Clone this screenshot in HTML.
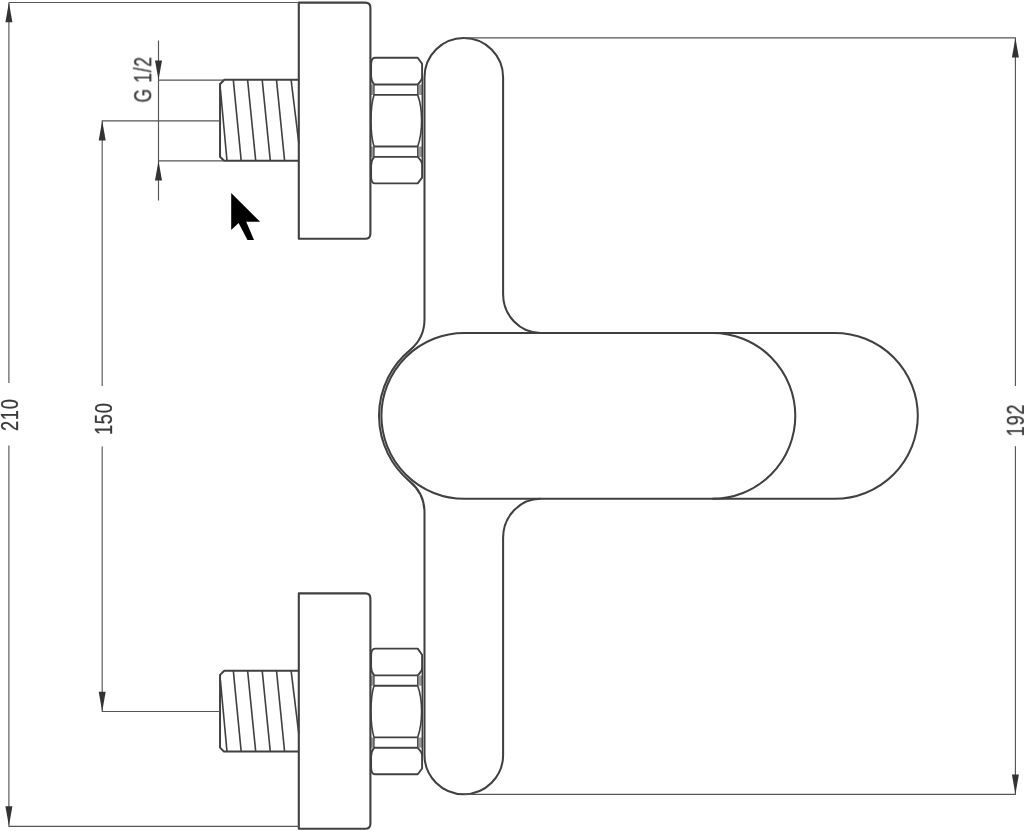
<!DOCTYPE html>
<html><head><meta charset="utf-8"><title>Drawing</title>
<style>
html,body{margin:0;padding:0;background:#fff;}
body{width:1024px;height:831px;position:relative;overflow:hidden;font-family:"Liberation Sans",sans-serif;}
</style></head><body>
<svg width="1024" height="831" viewBox="0 0 1024 831" style="position:absolute;left:0;top:0">
<rect width="1024" height="831" fill="#fff"/>
<g fill="none" stroke="#404040" stroke-width="1.6" stroke-linejoin="round" stroke-linecap="butt">
<path d="M299 79.8 H224.3 L220.05 84 V156.7 L224 160.7 H299" stroke-width="2"/>
<path d="M220.4 89.3 L227 160.7" stroke-width="1.6"/>
<path d="M233.3 79.8 L241.2 160.7" stroke-width="1.6"/>
<path d="M247.6 79.8 L255.7 160.7" stroke-width="1.6"/>
<path d="M262.2 79.8 L270.3 160.7" stroke-width="1.6"/>
<path d="M276.5 79.8 L284.6 160.7" stroke-width="1.6"/>
<path d="M291.1 79.8 L298.8 143" stroke-width="1.6"/>
<path d="M370.4 84.5 H374 V94.9 H370.4 Z M417.7 84.5 H422.3 V94.9 H417.7 Z M370.4 146.5 H374 V156.9 H370.4 Z M417.7 146.5 H422.3 V156.9 H417.7 Z" fill="#999" stroke="none"/>
<path d="M374 84.5 C372 82 371.1 79.5 371.1 76 V65 C371.1 61 372.2 57.7 375 57.7 H417.7 L422.1 63.8 V77 C422.1 80 420 82.2 417.7 84.5" stroke-width="1.9"/>
<path d="M374 156.9 C372 159.4 371.1 161.9 371.1 165.4 V176.4 C371.1 180.4 372.2 183.4 375 183.4 H417.7 L422.1 177.6 V164.4 C422.1 161.4 420 159.2 417.7 156.9" stroke-width="1.9"/>
<path d="M374 84.5 H417.7 M374 94.9 H417.7 M374 146.5 H417.7 M374 156.9 H417.7" stroke-width="1.9"/>
<path d="M374 84.5 V94.9 M417.7 84.5 V94.9 M374 146.5 V156.9 M417.7 146.5 V156.9" stroke-width="1.2"/>
<path d="M374 94.9 C372 101 371 110 371 120.7 C371 131 372 140 374 146.5 M417.7 94.9 C420 101 421.6 110 421.6 120.7 C421.6 131 420 140 417.7 146.5" stroke-width="1.6"/>
<path d="M422.3 77 V164.4" stroke-width="1.5"/>
<g transform="translate(0,590.9)">
<path d="M299 79.8 H224.3 L220.05 84 V156.7 L224 160.7 H299" stroke-width="2"/>
<path d="M220.4 89.3 L227 160.7" stroke-width="1.6"/>
<path d="M233.3 79.8 L241.2 160.7" stroke-width="1.6"/>
<path d="M247.6 79.8 L255.7 160.7" stroke-width="1.6"/>
<path d="M262.2 79.8 L270.3 160.7" stroke-width="1.6"/>
<path d="M276.5 79.8 L284.6 160.7" stroke-width="1.6"/>
<path d="M291.1 79.8 L298.8 143" stroke-width="1.6"/>
<path d="M370.4 84.5 H374 V94.9 H370.4 Z M417.7 84.5 H422.3 V94.9 H417.7 Z M370.4 146.5 H374 V156.9 H370.4 Z M417.7 146.5 H422.3 V156.9 H417.7 Z" fill="#999" stroke="none"/>
<path d="M374 84.5 C372 82 371.1 79.5 371.1 76 V65 C371.1 61 372.2 57.7 375 57.7 H417.7 L422.1 63.8 V77 C422.1 80 420 82.2 417.7 84.5" stroke-width="1.9"/>
<path d="M374 156.9 C372 159.4 371.1 161.9 371.1 165.4 V176.4 C371.1 180.4 372.2 183.4 375 183.4 H417.7 L422.1 177.6 V164.4 C422.1 161.4 420 159.2 417.7 156.9" stroke-width="1.9"/>
<path d="M374 84.5 H417.7 M374 94.9 H417.7 M374 146.5 H417.7 M374 156.9 H417.7" stroke-width="1.9"/>
<path d="M374 84.5 V94.9 M417.7 84.5 V94.9 M374 146.5 V156.9 M417.7 146.5 V156.9" stroke-width="1.2"/>
<path d="M374 94.9 C372 101 371 110 371 120.7 C371 131 372 140 374 146.5 M417.7 94.9 C420 101 421.6 110 421.6 120.7 C421.6 131 420 140 417.7 146.5" stroke-width="1.6"/>
<path d="M422.3 77 V164.4" stroke-width="1.5"/>
</g>
<path d="M298.8 2.6 H365.3 Q370.4 2.6 370.4 7.6 V233.7 Q370.4 238.7 365.3 238.7 H298.8 Z" stroke-width="2.1"/>
<path d="M298.8 593.4 H365.3 Q370.4 593.4 370.4 598.4 V823.7 Q370.4 828.7 365.3 828.7 H298.8 Z" stroke-width="2.1"/>
<path d="M540.5 332.9 A37.4 39 0 0 1 503.1 293.9 V77.3 A39.3 39.3 0 0 0 424.5 77.3 V319.29 A40 40 0 0 1 409.99 350.11 A85.3 85.3 0 0 0 409.99 481.59 A40 40 0 0 1 424.5 512.41 V754.9 A39.3 39.3 0 0 0 503.1 754.9 V537.8 A37.4 39 0 0 1 540.5 498.8" stroke-width="2.05"/>
<path d="M464.35 332.9 H834.85 A82.95 82.95 0 0 1 834.85 498.8 H464.35 A82.95 82.95 0 0 1 464.35 332.9 Z" stroke-width="2.05"/>
<path d="M712.35 332.9 A82.95 82.95 0 0 1 712.35 498.8" stroke-width="2.05"/>
</g>
<g fill="none" stroke="#555" stroke-width="1.15">
<path d="M8.9 2.5 H299 M8.4 826.4 H299 M8.9 2.5 V383 M8.9 445.6 V826.4"/>
<path d="M101.6 120.8 H220 M101.6 711.5 H220 M102.2 120.8 V386 M102.2 446.4 V711.5"/>
<path d="M158.5 40.4 V200.6 M158.5 80.1 H223 M158.5 160.8 H223"/>
<path d="M464 37.9 H1015.9 M464 794.3 H1015.9 M1015.4 37.9 V386 M1015.4 446.3 V794.3"/>
</g>
<path d="M8.9 2.5 L5.4 22.2 L12.4 22.2 Z" fill="#333" stroke="none"/>
<path d="M8.9 826 L5.4 806.3 L12.4 806.3 Z" fill="#333" stroke="none"/>
<path d="M102.2 120.8 L98.7 140.5 L105.7 140.5 Z" fill="#333" stroke="none"/>
<path d="M102.2 711.5 L98.7 691.8 L105.7 691.8 Z" fill="#333" stroke="none"/>
<path d="M158.5 80.1 L155.0 60.39999999999999 L162.0 60.39999999999999 Z" fill="#333" stroke="none"/>
<path d="M158.5 160.8 L155.0 180.5 L162.0 180.5 Z" fill="#333" stroke="none"/>
<path d="M1015.4 37.9 L1011.9 57.599999999999994 L1018.9 57.599999999999994 Z" fill="#333" stroke="none"/>
<path d="M1015.4 794.3 L1011.9 774.5999999999999 L1018.9 774.5999999999999 Z" fill="#333" stroke="none"/>
<path d="M231.2 193.1 L231.2 230.1 L238.6 223 L247.5 240 L254 240 L246.2 221.7 L260.1 221.7 Z" fill="#000"/>
<g style="opacity:0.999">
<text transform="translate(17.8 414.7) rotate(-90) scale(0.78 1)" text-anchor="middle" letter-spacing="1.0" font-family="Liberation Sans, sans-serif" font-size="23.3" fill="#3a3a3a" stroke="#3a3a3a" stroke-width="0.3">210</text>
<text transform="translate(111.9 418.8) rotate(-90) scale(0.78 1)" text-anchor="middle" letter-spacing="1.0" font-family="Liberation Sans, sans-serif" font-size="23.3" fill="#3a3a3a" stroke="#3a3a3a" stroke-width="0.3">150</text>
<text transform="translate(151.2 79.5) rotate(-90) scale(0.75 1)" text-anchor="middle" letter-spacing="0.9" font-family="Liberation Sans, sans-serif" font-size="23.3" fill="#3a3a3a" stroke="#3a3a3a" stroke-width="0.3">G 1/2</text>
<text transform="translate(1023.9 420) rotate(-90) scale(0.78 1)" text-anchor="middle" letter-spacing="1.0" font-family="Liberation Sans, sans-serif" font-size="23.3" fill="#3a3a3a" stroke="#3a3a3a" stroke-width="0.3">192</text>
</g>
</svg>
</body></html>
